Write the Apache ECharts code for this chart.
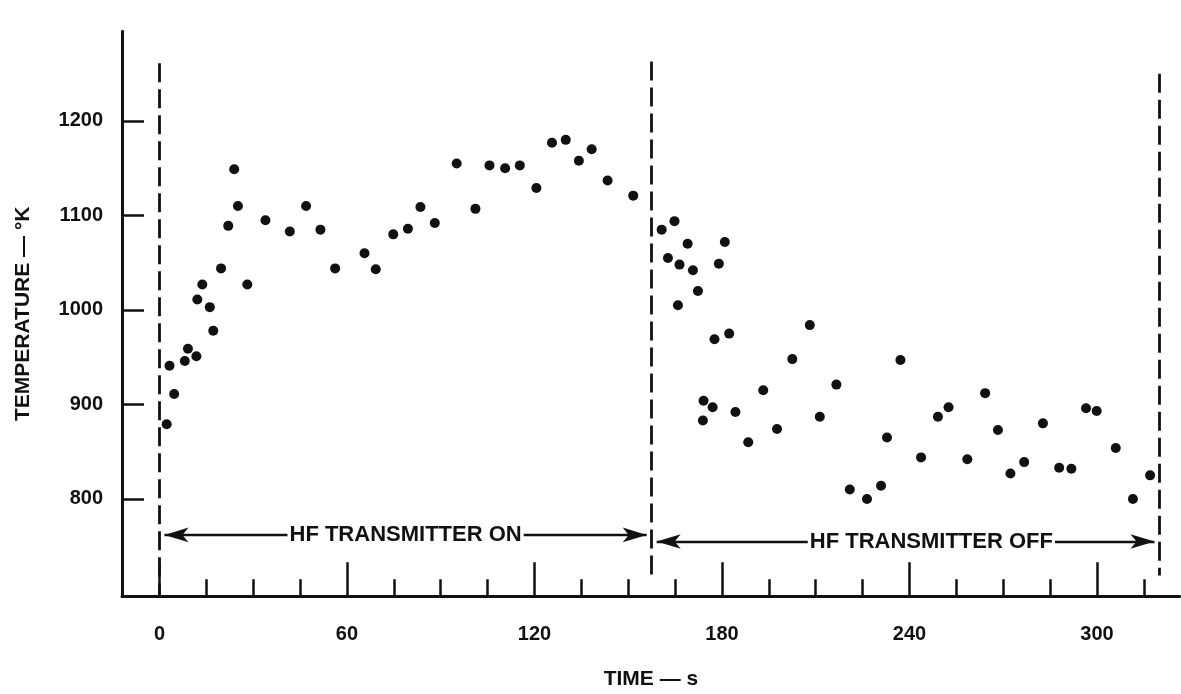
<!DOCTYPE html>
<html>
<head>
<meta charset="utf-8">
<script src="https://cdn.jsdelivr.net/npm/echarts@6/dist/echarts.min.js"></script>
<style>
html,body{margin:0;padding:0;background:#ffffff;}
#chart{width:1181px;height:694px;}
</style>
</head>
<body>
<div id="chart"></div>
<script>
// ---- data ----
const timeOn = [2.3,3.2,4.7,8.1,9.1,11.8,12.1,13.7,16.1,17.2,19.7,22.0,23.9,25.1,28.1,33.9,41.7,46.9,51.5,56.2,65.6,69.2,74.8,79.5,83.5,88.1,95.1,101.1,105.6,110.6,115.3,120.6,125.6,130.0,134.2,138.3,143.4,151.6];
const tempOn = [879,941,911,946,959,951,1011,1027,1003,978,1044,1089,1149,1110,1027,1095,1083,1110,1085,1044,1060,1043,1080,1086,1109,1092,1155,1107,1153,1150,1153,1129,1177,1180,1158,1170,1137,1121];

const timeOff = [160.7,162.7,164.8,165.9,166.4,169.0,170.7,172.3,173.9,174.1,177.0,177.6,179.0,180.9,182.3,184.3,188.4,193.2,197.6,202.5,208.1,211.3,216.6,220.9,226.4,230.9,232.8,237.1,243.7,249.1,252.5,258.5,264.2,268.3,272.3,276.7,282.7,287.9,291.8,296.5,299.9,306.0,311.5,317.0];
const tempOff = [1085,1055,1094,1005,1048,1070,1042,1020,883,904,897,969,1049,1072,975,892,860,915,874,948,984,887,921,810,800,814,865,947,844,887,897,842,912,873,827,839,880,833,832,896,893,854,800,825];

const timeTickLabels = [0,60,120,180,240,300];
const timeMinorTicks = [15,30,45,75,90,105,135,150,165,195,210,225,255,270,285,315];
const tempTickLabels = [800,900,1000,1100,1200];

// phase boundaries (s) and the temperature span of each dashed marker
const boundaryTime = [0,157.5,320];
const boundaryTop = [1261,1263,1250];
const boundaryBottom = [697,713,719];

const phaseLabels = ['HF TRANSMITTER ON','HF TRANSMITTER OFF'];
const phaseLabelTime = [78.75,247];
const phaseLabelTemp = [762,755];

// ---- chart ----
const FONT = "'Liberation Sans', Arial, Helvetica, sans-serif";
const INK = '#111111';
const xMin = -12, xMax = 326.5, yMin = 697, yMax = 1295;
const arrowInset = 1.6;

const chart = echarts.init(document.getElementById('chart'), null, {renderer:'canvas'});

const boundaryLines = boundaryTime.map((t,i)=>[
  {coord:[t, boundaryTop[i]]},
  {coord:[t, boundaryBottom[i]]}
]);
const arrowLines = phaseLabels.map((_,i)=>[
  {coord:[boundaryTime[i]+arrowInset, phaseLabelTemp[i]]},
  {coord:[boundaryTime[i+1]-arrowInset, phaseLabelTemp[i]]}
]);

const plain = v => String(v);

const option = {
  backgroundColor:'#ffffff',
  animation:false,
  grid:{left:122, right:1.2, top:31.2, bottom:97.7, containLabel:false, outerBoundsMode:'none'},
  xAxis:[{
    type:'value', min:xMin, max:xMax, position:'bottom',
    name:'TIME — s', nameLocation:'middle', nameGap:72,
    nameTextStyle:{fontFamily:FONT, fontWeight:'bold', fontSize:21, color:INK},
    axisLine:{show:true, onZero:false, lineStyle:{color:INK, width:3}},
    axisTick:{show:true, inside:true, length:34, customValues:timeTickLabels, lineStyle:{color:INK, width:2.5}},
    axisLabel:{show:true, margin:28, customValues:timeTickLabels, formatter:plain, fontFamily:FONT, fontWeight:'bold', fontSize:20, color:INK},
    splitLine:{show:false}
  },{
    type:'value', min:xMin, max:xMax, position:'bottom', offset:0,
    axisLine:{show:false},
    axisTick:{show:true, inside:true, length:17, customValues:timeMinorTicks, lineStyle:{color:INK, width:2.5}},
    axisLabel:{show:false},
    splitLine:{show:false}
  }],
  yAxis:{
    type:'value', min:yMin, max:yMax, position:'left',
    name:'TEMPERATURE — °K', nameLocation:'middle', nameGap:88, nameRotate:90,
    nameTextStyle:{fontFamily:FONT, fontWeight:'bold', fontSize:21, color:INK},
    axisLine:{show:true, onZero:false, lineStyle:{color:INK, width:3}},
    axisTick:{show:true, inside:true, length:22, customValues:tempTickLabels, lineStyle:{color:INK, width:2.5}},
    axisLabel:{show:true, margin:19, customValues:tempTickLabels, formatter:plain, fontFamily:FONT, fontWeight:'bold', fontSize:20, color:INK},
    splitLine:{show:false}
  },
  series:[
    {
      name:'boundaries', type:'scatter', data:[], silent:true, z:2,
      markLine:{
        silent:true, symbol:'none', animation:false,
        label:{show:false},
        lineStyle:{color:INK, width:2.8, type:[19,7], opacity:1},
        emphasis:{disabled:true},
        data:boundaryLines
      }
    },
    {
      name:'arrows', type:'scatter', data:[], silent:true, z:3,
      markLine:{
        silent:true, symbol:['arrow','arrow'], symbolSize:[11,24], animation:false,
        label:{show:false},
        lineStyle:{color:INK, width:2.4, type:'solid', opacity:1},
        itemStyle:{color:INK, opacity:1},
        emphasis:{disabled:true},
        data:arrowLines
      }
    },
    {
      name:'phase labels', type:'scatter', z:6, silent:true, symbolSize:0,
      itemStyle:{color:INK, opacity:1},
      data:phaseLabels.map((t,i)=>({name:t, value:[phaseLabelTime[i], phaseLabelTemp[i]]})),
      label:{show:true, position:'inside', formatter:'{b}', fontFamily:FONT, fontWeight:'bold', fontSize:22, color:INK,
             textBorderWidth:0, textBorderColor:'transparent', opacity:1,
             backgroundColor:'#ffffff', padding:[2,2]}
    },
    {
      name:'HF on', type:'scatter', z:5, symbol:'circle', symbolSize:10,
      itemStyle:{color:INK, opacity:1},
      data:timeOn.map((t,i)=>[t, tempOn[i]])
    },
    {
      name:'HF off', type:'scatter', z:5, symbol:'circle', symbolSize:10,
      itemStyle:{color:INK, opacity:1},
      data:timeOff.map((t,i)=>[t, tempOff[i]])
    }
  ]
};
chart.setOption(option);
</script>
</body>
</html>
